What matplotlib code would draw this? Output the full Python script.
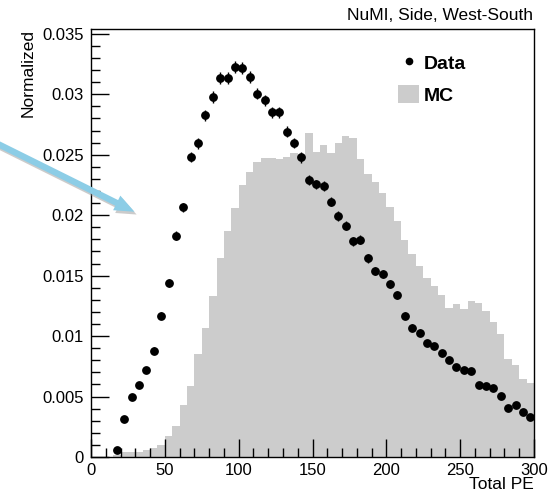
import numpy as np
import matplotlib
matplotlib.use("Agg")
from matplotlib import pyplot as plt
from matplotlib.lines import Line2D
from matplotlib.patches import Patch, FancyArrowPatch
from matplotlib.ticker import MultipleLocator
import matplotlib.patheffects as pe

plt.rcParams['font.family'] = ['Liberation Sans', 'DejaVu Sans']

# MC histogram, 5 PE bins from 0 to 300 (normalized)
bin_edges = list(range(0, 305, 5))
mc_values = [0, 0, 0, 0.0002, 0.00044, 0.00044, 0.00044, 0.0006, 0.00075, 0.001,
             0.00175, 0.0026, 0.0043, 0.0059, 0.00856, 0.01064, 0.0133, 0.01648, 0.01868, 0.02056,
             0.02249, 0.02354, 0.02442, 0.02475, 0.0247, 0.02462, 0.02478, 0.02511, 0.02489, 0.02677,
             0.02522, 0.0258, 0.02515, 0.02594, 0.02652, 0.0264, 0.02465, 0.02338, 0.02277, 0.02183,
             0.0207, 0.01955, 0.01797, 0.01683, 0.01577, 0.01477, 0.01416, 0.01336, 0.01232, 0.01264,
             0.01223, 0.01289, 0.01275, 0.01209, 0.01113, 0.01016, 0.00809, 0.00759, 0.00649, 0.00608]

# data points (bin centres), values and errors
data_x = [17.5, 22.5, 27.5, 32.5, 37.5, 42.5, 47.5, 52.5, 57.5, 62.5,
          67.5, 72.5, 77.5, 82.5, 87.5, 92.5, 97.5, 102.5, 107.5, 112.5,
          117.5, 122.5, 127.5, 132.5, 137.5, 142.5, 147.5, 152.5, 157.5, 162.5,
          167.5, 172.5, 177.5, 182.5, 187.5, 192.5, 197.5, 202.5, 207.5, 212.5,
          217.5, 222.5, 227.5, 232.5, 237.5, 242.5, 247.5, 252.5, 257.5, 262.5,
          267.5, 272.5, 277.5, 282.5, 287.5, 292.5, 297.5]
data_y = [0.00058, 0.00315, 0.00497, 0.00598, 0.00718, 0.0088, 0.0117, 0.0144, 0.01832, 0.02064,
          0.0248, 0.02594, 0.02825, 0.02978, 0.03135, 0.03135, 0.03226, 0.03215, 0.03143, 0.03005,
          0.0295, 0.0285, 0.0285, 0.0269, 0.02597, 0.02478, 0.02293, 0.02254, 0.02238, 0.02113,
          0.01995, 0.01912, 0.01785, 0.01796, 0.01642, 0.01537, 0.01515, 0.0143, 0.01341, 0.0117,
          0.01068, 0.01029, 0.00944, 0.00919, 0.00861, 0.00805, 0.00745, 0.0072, 0.00709, 0.00593,
          0.0059, 0.00569, 0.00507, 0.00408, 0.0043, 0.00372, 0.00331]
data_err = [0.00007, 0.00015, 0.00019, 0.00021, 0.00023, 0.00026, 0.0003, 0.00033, 0.00037, 0.0004,
            0.00043, 0.00044, 0.00046, 0.00048, 0.00049, 0.00049, 0.00049, 0.00049, 0.00049, 0.00048,
            0.00047, 0.00046, 0.00046, 0.00045, 0.00044, 0.00043, 0.00042, 0.00041, 0.00041, 0.0004,
            0.00039, 0.00038, 0.00037, 0.00037, 0.00035, 0.00034, 0.00034, 0.00033, 0.00032, 0.0003,
            0.00028, 0.00028, 0.00027, 0.00026, 0.00026, 0.00025, 0.00024, 0.00023, 0.00023, 0.00021,
            0.00021, 0.00021, 0.0002, 0.00018, 0.00018, 0.00017, 0.00016]

W, H = 548, 497
fig = plt.figure(figsize=(W / 100, H / 100), dpi=100)
ax = fig.add_axes([91 / W, 40 / H, 443 / W, 428 / H])

ax.stairs(mc_values, bin_edges, fill=True, color='#cccccc', zorder=1)
ax.errorbar(data_x, data_y, yerr=data_err, fmt='o', color='black',
            markersize=5.3, elinewidth=1, capsize=0, zorder=3)

ax.set_xlim(0, 300)
ax.set_ylim(0, 0.0354)
ax.xaxis.set_major_locator(MultipleLocator(50))
ax.xaxis.set_minor_locator(MultipleLocator(10))
ax.yaxis.set_minor_locator(MultipleLocator(0.001))
ax.set_yticks([0, 0.005, 0.01, 0.015, 0.02, 0.025, 0.03, 0.035])
ax.set_yticklabels(['0', '0.005', '0.01', '0.015', '0.02', '0.025', '0.03', '0.035'])
ax.tick_params(which='both', direction='in', top=False, right=False, width=1, labelsize=12)
ax.tick_params(which='major', length=13)
ax.tick_params(axis='y', which='major', pad=5)
ax.tick_params(axis='x', which='major', pad=4)
ax.tick_params(which='minor', length=6.5)
for s in ax.spines.values():
    s.set_linewidth(1.0)
    s.set_zorder(5)

ax.set_xlabel('Total PE', loc='right', fontsize=12.5)
ax.xaxis.set_label_coords(1.0, -0.047)
ax.set_ylabel('Normalized', loc='top', fontsize=12.5)
ax.yaxis.set_label_coords(-0.125, 1.0)

fig.text(533 / W, 1 - 20 / H, 'NuMI, Side, West-South', ha='right', va='baseline', fontsize=12.5)

handles = [Line2D([], [], marker='o', color='black', linestyle='none', markersize=4.5),
           Patch(facecolor='#cccccc', edgecolor='none')]
ax.legend(handles, ['Data', 'MC'], loc='upper left', bbox_to_anchor=(398 / W, 1 - 53 / H),
          bbox_transform=fig.transFigure, frameon=False, borderpad=0, borderaxespad=0,
          handlelength=1.1, handleheight=1.1, handletextpad=0.25, labelspacing=0.6,
          prop={'weight': 'bold', 'size': 14})

# pointer arrow from the left edge
arrow = FancyArrowPatch((-4 / W, 1 - 143 / H), (137 / W, 1 - 213 / H),
                        transform=fig.transFigure,
                        arrowstyle='simple,head_width=0.9,head_length=1.1,tail_width=0.35',
                        mutation_scale=13, color='#8ccde6', lw=0,
                        path_effects=[pe.SimplePatchShadow(offset=(1.5, -2), shadow_rgbFace='#999999', alpha=0.5),
                                      pe.Normal()])
fig.patches.append(arrow)

fig.savefig('out.png', dpi=100)
